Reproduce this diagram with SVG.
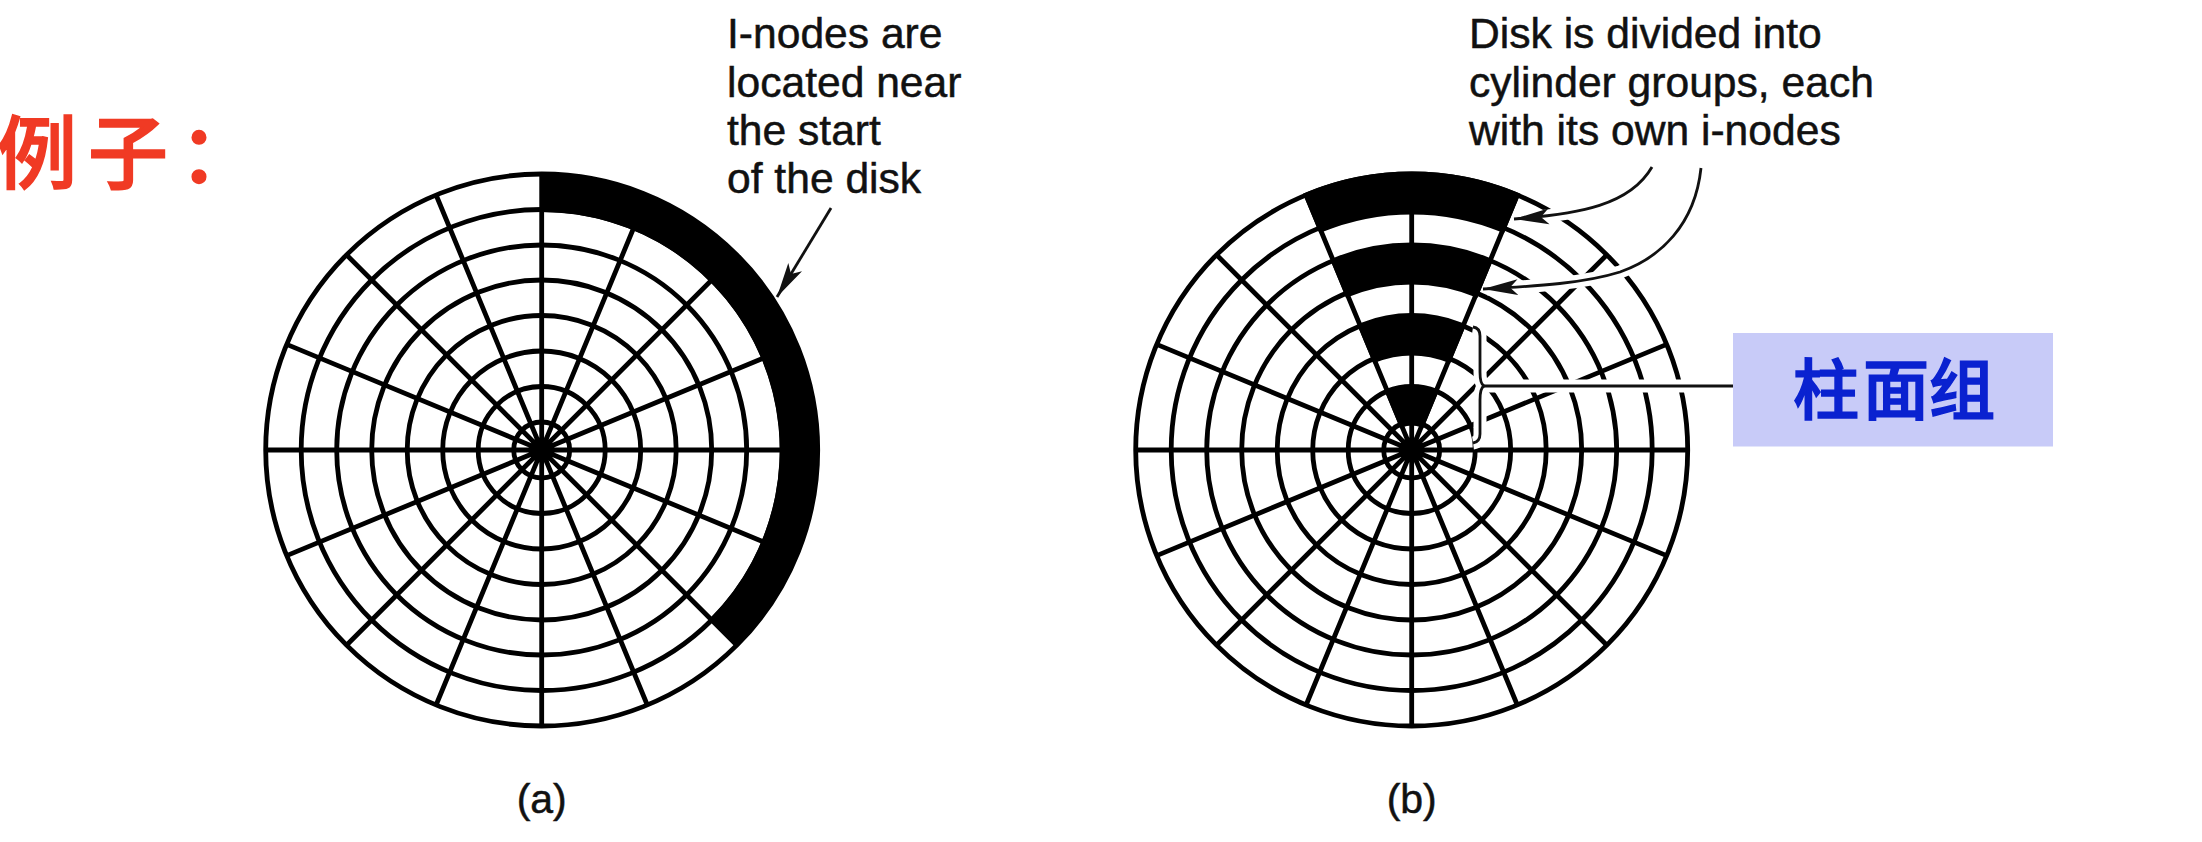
<svg xmlns="http://www.w3.org/2000/svg" xmlns:xlink="http://www.w3.org/1999/xlink" width="2202" height="842" viewBox="0 0 2202 842">
<style>
.label{font-family:"Liberation Sans",Arial,sans-serif;font-size:42.6px;fill:#111;stroke:#111;stroke-width:.5}
.cap{font-family:"Liberation Sans",Arial,sans-serif;font-size:41px;fill:#111;stroke:#111;stroke-width:.5;text-anchor:middle}
.cjk{font-family:"Noto Sans CJK SC",sans-serif;font-weight:500;stroke-width:1.6}
.ring{fill:none;stroke:#000;stroke-width:4.8}
.spoke{stroke:#000;stroke-width:4.8;fill:none}
.band{fill:#000;stroke:#000;stroke-width:4.8}
.line{fill:none;stroke:#111;stroke-width:2.8}
.halo{fill:none;stroke:#fff;stroke-width:13}
</style>
<defs>
<marker id="head" markerUnits="userSpaceOnUse" markerWidth="40" markerHeight="20" refX="35" refY="9" orient="auto">
<path d="M0,1 L35,9 L0,17 L8,9 Z" fill="#111"/>
</marker>
<g id="platter">
<circle class="ring" r="276"/><circle class="ring" r="240.5"/><circle class="ring" r="205"/><circle class="ring" r="170"/>
<circle class="ring" r="134.5"/><circle class="ring" r="99"/><circle class="ring" r="63.5"/><circle class="ring" r="28"/>
<path class="spoke" d="M-276,0H276M0,-276V276M-195.2,-195.2L195.2,195.2M-195.2,195.2L195.2,-195.2M-105.6,-255L105.6,255M105.6,-255L-105.6,255M-255,-105.6L255,105.6M-255,105.6L255,-105.6"/>
<circle r="10" fill="#000"/>
</g>
</defs>
<rect width="2202" height="842" fill="#fff"/>
<g id="title"><text class="cjk" x="-3 88 179" y="182" font-size="80" fill="#f03a24" stroke="#f03a24">例子：</text></g>
<g id="disk-a" transform="translate(541.7 450)">
<use href="#platter"/>
<path id="inodes-a" d="M0,-277.500A277.500,277.500 0 0 1 196.2,196.2L168.300,168.300A238,238 0 0 0 0,-238Z" fill="#000"/>
</g>
<g id="label-a">
<text class="label" x="727" y="48">I-nodes are</text>
<text class="label" x="727" y="96.5">located near</text>
<text class="label" x="727" y="145">the start</text>
<text class="label" x="727" y="193">of the disk</text>
</g>
<text id="caption-a" class="cap" x="541.7" y="813">(a)</text>
<g id="disk-b" transform="translate(1411.7 450)">
<use href="#platter"/>
<path id="group-1" class="band" d="M-105.6,-255A276,276 0 0 1 105.6,-255L91,-219.900A238,238 0 0 0 -91,-219.900Z"/>
<path id="group-2" class="band" d="M-78.1,-188.500A204,204 0 0 1 78.1,-188.500L64.300,-155.200A168,168 0 0 0 -64.300,-155.200Z"/>
<path id="group-3" class="band" d="M-50.900,-122.900A133,133 0 0 1 50.900,-122.900L37.100,-89.600A97,97 0 0 0 -37.100,-89.600Z"/>
<path id="group-4" class="band" d="M-23.700,-57.300A62,62 0 0 1 23.700,-57.300L10.300,-24.900A27,27 0 0 0 -10.300,-24.900Z"/>
</g>
<g id="label-b">
<text class="label" x="1469" y="48">Disk is divided into</text>
<text class="label" x="1469" y="96.5">cylinder groups, each</text>
<text class="label" x="1469" y="145">with its own i-nodes</text>
</g>
<text id="caption-b" class="cap" x="1411.7" y="813">(b)</text>
<g id="connectors">
<path class="halo" d="M1652,167C1630,205 1580,214 1518,219"/>
<path class="halo" d="M1701,168C1695,225 1660,258 1620,272C1585,283 1540,286 1487,289"/>
<path class="halo" d="M1473,327Q1480,328 1480,336L1480,372Q1480,384 1484,386Q1480,388 1480,400L1480,434Q1480,442 1473,443"/>
<path class="halo" d="M1484,386H1733"/>
<path class="line" marker-end="url(#head)" d="M831,208L777,297"/>
<path class="line" marker-end="url(#head)" d="M1652,167C1630,205 1580,214 1514,219"/>
<path class="line" marker-end="url(#head)" d="M1701,168C1695,225 1660,258 1620,272C1585,283 1540,286 1483,289"/>
<path class="line" d="M1473,327Q1480,328 1480,336L1480,372Q1480,384 1484,386Q1480,388 1480,400L1480,434Q1480,442 1473,443"/>
<path class="line" d="M1484,386H1733"/>
</g>
<g id="callout">
<rect x="1733" y="333" width="320" height="113.500" fill="#c8cbf8"/>
<text class="cjk" x="1793 1863 1929" y="414" font-size="66" fill="#0a22d0" stroke="#0a22d0">柱面组</text>
</g>
</svg>
